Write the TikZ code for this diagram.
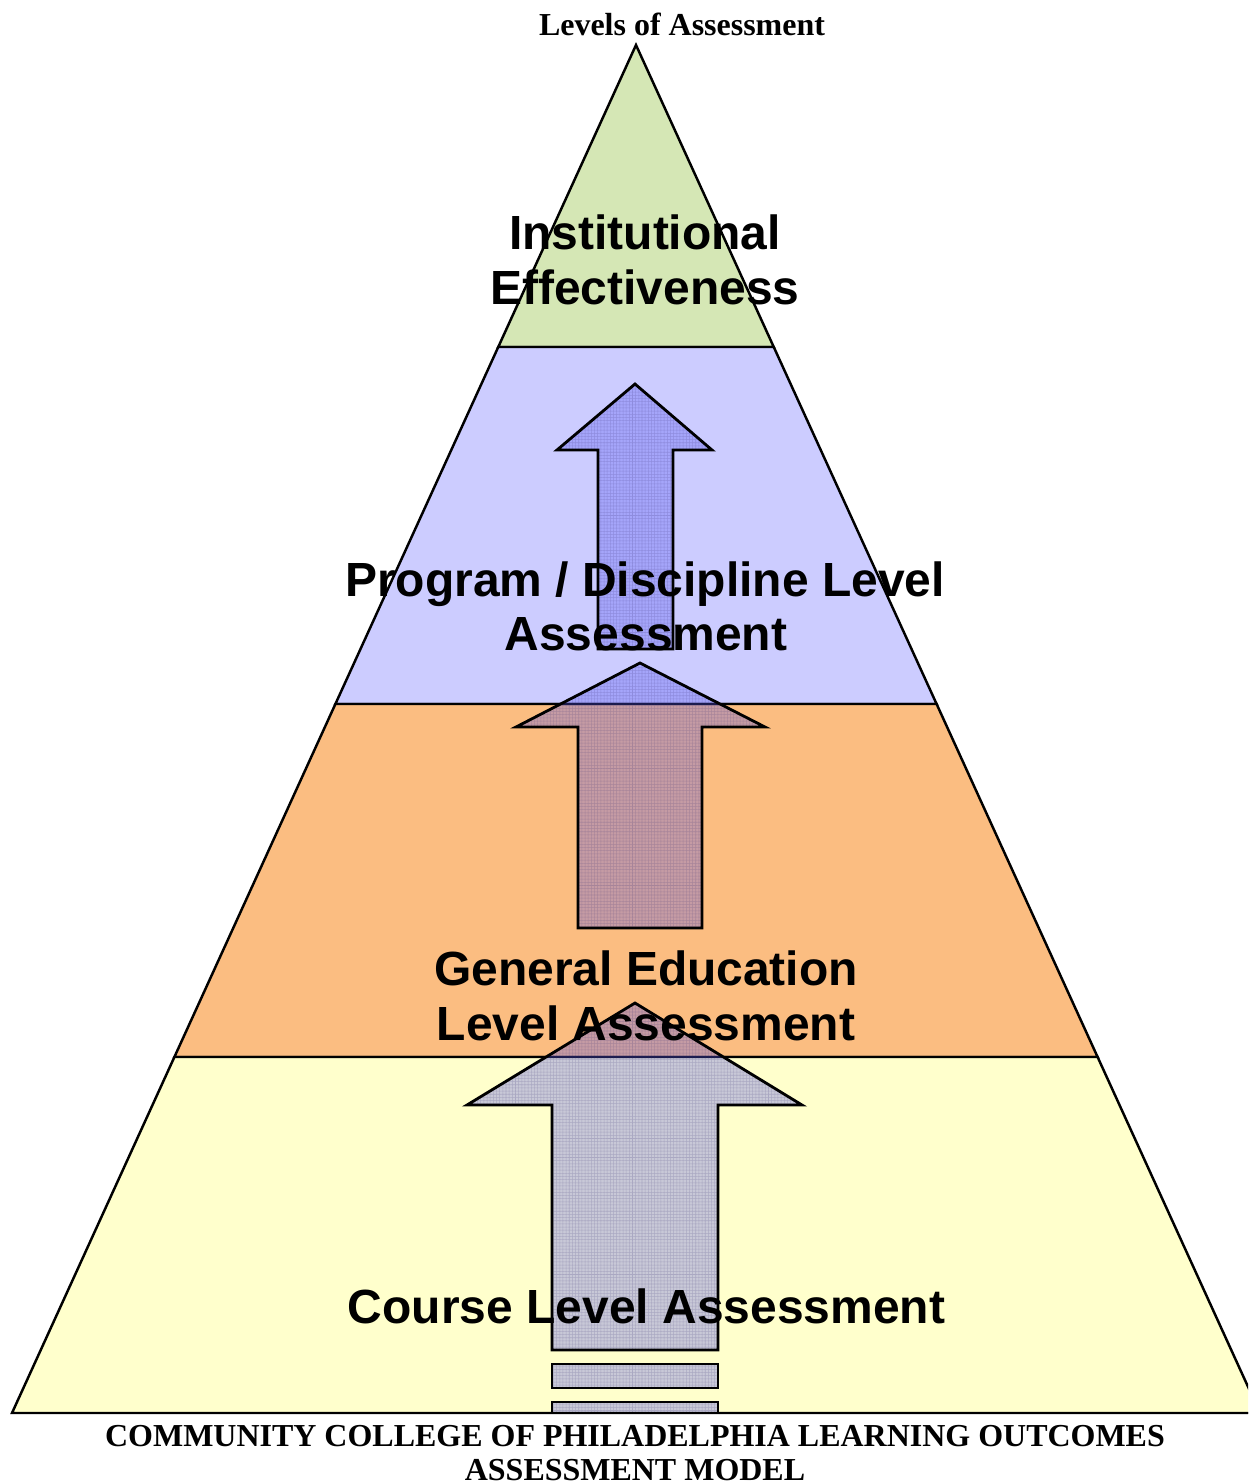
\documentclass[tikz,border=0pt]{standalone}
\usepackage{fontspec}
\setmainfont{Liberation Serif}
\newfontfamily\arialfont{Liberation Sans}
\usetikzlibrary{patterns.meta}
\definecolor{bandgreen}{HTML}{D5E7B5}
\definecolor{bandlav}{HTML}{CCCCFF}
\definecolor{bandorange}{HTML}{FBBD81}
\definecolor{bandyellow}{HTML}{FFFFCC}
\definecolor{arrowc}{RGB}{85,85,240}
\definecolor{patc}{RGB}{50,40,110}
\tikzset{
  band/.style={draw=black, line width=1.4pt, line join=miter},
  arrowfill/.style={fill=arrowc, fill opacity=0.32},
  arrowpat/.style={pattern={Hatch[angle=0,distance=1.8pt,line width=0.3pt]}, pattern color=patc},
  arrowline/.style={draw=black, line width=1.6pt, line join=miter},
  lvl/.style={font=\arialfont\bfseries\fontsize{27.3}{31.3}\selectfont, text=black, inner sep=0pt, anchor=base},
  ttl/.style={font=\bfseries\fontsize{18.2}{20}\selectfont, text=black, inner sep=0pt, anchor=base}
}
\newcommand\bigarrowshape[1]{%
  \fill[arrowfill] #1;
  \begin{scope}[transparency group, opacity=0.2]
    \fill[arrowpat] #1;
  \end{scope}
  \draw[arrowline] #1;
}
\begin{document}
\begin{tikzpicture}[x=0.02cm, y=-0.02cm]
\useasboundingbox (0,0) rectangle (1248,1484);
\fill[white] (0,0) rectangle (1248,1484);
\begin{scope}
\clip (0,0) rectangle (1248,1484);
% pyramid corner coordinates
\coordinate (apex) at (636,45);
\coordinate (l1) at (498.25,347);  \coordinate (r1) at (773.75,347);
\coordinate (l2) at (335.4,704);   \coordinate (r2) at (936.6,704);
\coordinate (l3) at (174.4,1057);  \coordinate (r3) at (1097.6,1057);
\coordinate (l4) at (12,1413);     \coordinate (r4) at (1260,1413);
% bands
\filldraw[band, fill=bandgreen] (apex) -- (l1) -- (r1) -- cycle;
\filldraw[band, fill=bandlav] (l1) -- (l2) -- (r2) -- (r1) -- cycle;
\filldraw[band, fill=bandorange] (l2) -- (l3) -- (r3) -- (r2) -- cycle;
\filldraw[band, fill=bandyellow] (l3) -- (l4) -- (r4) -- (r3) -- cycle;
% arrows
\bigarrowshape{(635,384) -- (712,450) -- (673,450) -- (673,649) -- (598,649) -- (598,450) -- (557,450) -- cycle}
\bigarrowshape{(640,663) -- (765,727) -- (702,727) -- (702,928) -- (578,928) -- (578,727) -- (516,727) -- cycle}
\bigarrowshape{(635,1003) -- (802,1105) -- (718,1105) -- (718,1350) -- (552,1350) -- (552,1105) -- (467,1105) -- cycle}
\bigarrowshape{(552,1364) rectangle (718,1388)}
\bigarrowshape{(552,1402) rectangle (718,1413)}
\draw[line width=1.4pt] (l4) -- (r4);
\end{scope}
% labels
\node[ttl] (title) at (682,35) {Levels of Assessment};
\node[lvl] (inst1) at (645,249) {Institutional};
\node[lvl] (inst2) at (645,304) {Effectiveness};
\node[lvl] (prog1) at (645,596) {Program / Discipline Level};
\node[lvl] (prog2) at (646,650) {Assessment};
\node[lvl] (gen1) at (646,985) {General Education};
\node[lvl] (gen2) at (646,1040) {Level Assessment};
\node[lvl] (course) at (646.5,1323) {Course Level Assessment};
\node[ttl] (foot1) at (635,1446) {COMMUNITY COLLEGE OF PHILADELPHIA LEARNING OUTCOMES};
\node[ttl] (foot2) at (635,1480) {ASSESSMENT MODEL};
\end{tikzpicture}
\end{document}
